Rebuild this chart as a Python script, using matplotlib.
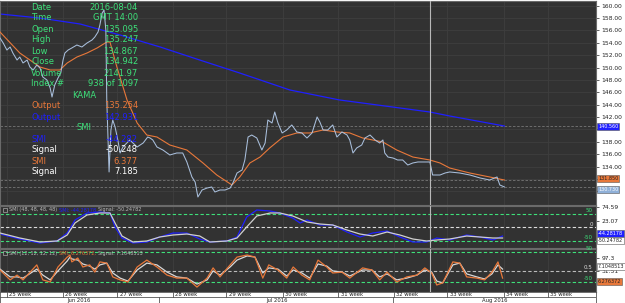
import numpy as np
import matplotlib
matplotlib.use("Agg")
import matplotlib.pyplot as plt

# ---- data (x = hourly bar index) ----
price_bar = [0, 7, 15, 22, 28, 37, 43, 50, 59, 65, 72, 80, 87, 93, 102, 109, 113, 119, 126, 132,
             137, 141, 148, 156, 167, 178, 189, 200, 206, 213, 217, 222, 226, 230, 232, 237, 241, 245,
             250, 256, 261, 267, 282, 298, 311, 321, 326, 332, 341, 354, 369, 384, 397, 406, 417, 424,
             430, 439, 450, 460, 467, 478, 489, 500, 506, 515, 526, 532, 539, 547, 558, 569, 576, 582,
             591, 597, 604, 613, 623, 634, 645, 656, 667, 678, 689, 695, 702, 712, 723, 732, 743, 754,
             760, 767, 775, 786, 793, 804, 815, 825, 832, 836, 843, 854, 864, 875, 886, 897, 908, 919,
             934, 940, 956, 967, 977, 999, 1021, 1043, 1064, 1080, 1086, 1096]
price = [154.76, 153.95, 152.82, 153.31, 152.34, 151.21, 151.69, 150.73, 151.21, 150.08, 149.60,
         150.40, 149.92, 148.47, 147.98, 146.69, 145.24, 147.18, 148.31, 149.11, 151.21, 152.34,
         152.82, 153.15, 153.63, 153.31, 153.95, 154.44, 154.92, 155.73, 156.85, 158.79, 159.27,
         156.05, 144.76, 133.15, 139.92, 141.53, 140.41, 138.31, 136.21, 137.18, 138.31, 137.18,
         137.82, 138.79, 138.63, 138.31, 137.18, 136.69, 135.89, 136.21, 136.21, 134.76, 132.34,
         131.53, 129.11, 130.24, 130.56, 130.73, 129.92, 130.24, 130.24, 130.56, 131.37, 132.98,
         133.47, 135.08, 138.79, 139.11, 138.63, 136.69, 137.82, 141.53, 141.05, 142.82, 141.05,
         139.44, 139.92, 140.73, 139.60, 139.44, 138.63, 139.44, 142.02, 141.21, 139.92, 139.92,
         140.73, 138.79, 139.60, 139.11, 138.31, 136.21, 137.02, 137.50, 138.63, 139.11, 138.31,
         137.82, 138.31, 136.21, 135.56, 135.40, 135.08, 135.08, 134.27, 134.60, 134.76, 134.76,
         134.76, 132.66, 132.66, 132.98, 133.15, 132.98, 132.66, 132.18, 131.85, 132.34, 131.05,
         130.73]

kama_fast_bar = [0, 43, 87, 109, 130, 146, 167, 189, 211, 232, 239, 254, 276, 298, 319, 341, 369,
                 406, 441, 471, 504, 521, 543, 565, 586, 615, 645, 673, 702, 732, 760, 788, 832, 862,
                 897, 934, 956, 977, 1021, 1064, 1096]
kama_fast = [155.73, 152.34, 150.08, 149.60, 149.60, 150.73, 151.69, 152.34, 153.15, 154.11,
             154.11, 150.08, 144.76, 141.05, 139.11, 138.79, 137.50, 136.69, 134.60, 132.66,
             131.05, 132.34, 134.60, 135.56, 137.02, 138.79, 139.44, 139.44, 139.92, 139.60,
             139.44, 138.63, 137.98, 136.69, 135.56, 135.08, 134.60, 133.79, 132.98, 132.34, 131.85]

kama_slow_bar = [0, 87, 174, 261, 348, 434, 521, 630, 738, 869, 934, 977, 1096]
kama_slow = [158.63, 157.98, 157.02, 155.24, 153.31, 151.21, 149.11, 146.37, 144.76, 143.47,
             142.82, 142.18, 140.56]

smi_long_bar = [0, 43, 87, 124, 146, 163, 189, 217, 239, 250, 265, 289, 319, 347, 376, 406, 434,
                456, 493, 515, 536, 558, 587, 608, 636, 652, 667, 695, 723, 754, 782, 810, 841, 869,
                897, 927, 949, 977, 1014, 1043, 1071, 1092]
smi_long = [-24.1, -42.6, -57.4, -50.0, -20.4, 27.8, 53.7, 57.4, 53.7, 1.9, -38.9, -57.4, -53.7,
            -35.2, -20.4, -20.4, -42.6, -53.7, -50.0, -35.2, 38.9, 64.8, 61.1, 53.7, 35.2, 16.7,
            27.8, 9.3, 9.3, -16.7, -35.2, -20.4, -13.0, -35.2, -53.7, -53.7, -38.9, -46.3, -27.8,
            -35.2, -46.3, -31.5]
smi_long_sig = [-20.4, -38.9, -53.7, -50.0, -27.8, 16.7, 46.3, 53.7, 53.7, 16.7, -31.5, -53.7,
                -50.0, -35.2, -27.8, -24.1, -31.5, -53.7, -50.0, -38.9, 1.9, 42.6, 53.7, 53.7,
                42.6, 31.5, 20.4, 13.0, 9.3, -9.3, -24.1, -31.5, -16.7, -27.8, -42.6, -50.0,
                -46.3, -42.6, -31.5, -35.2, -38.9, -38.9]

smi_short_bar = [0, 22, 37, 50, 80, 93, 109, 126, 146, 152, 156, 169, 180, 195, 206, 217, 232,
                 245, 261, 278, 298, 319, 341, 363, 384, 406, 428, 450, 463, 478, 500, 515, 537,
                 554, 571, 584, 604, 623, 637, 656, 673, 691, 710, 723, 743, 760, 788, 808, 825,
                 841, 862, 884, 906, 923, 938, 949, 962, 984, 999, 1014, 1036, 1053, 1069, 1082, 1092]
smi_short = [-10, -43, -27, -43, 7, -43, -50, 0, 33, 40, 17, 30, 0, 7, -17, 17, 13, -33, -43, -50,
             0, 23, 0, -27, -37, -37, -67, -37, -3, -33, 7, 33, 40, 33, -37, 7, -10, -37, 0, -27,
             -43, 23, 0, -20, -17, -37, -3, -10, -43, -17, -50, -33, -27, -3, -20, -60, -53, 17, 13,
             -33, -37, -43, -17, 17, -37]
smi_short_sig = [-7, -33, -33, -37, -7, -27, -43, -13, 20, 33, 27, 23, 10, 3, -7, 7, 13, -20,
                 -37, -47, -10, 13, 7, -17, -33, -37, -57, -43, -13, -27, 0, 23, 37, 33, -20, -3,
                 -7, -30, -10, -20, -37, 10, 3, -13, -17, -30, -10, -10, -33, -23, -43, -37, -27,
                 -10, -17, -47, -53, 7, 13, -23, -33, -40, -23, 7, -7]

week_bar = [15, 136, 255, 376, 492, 614, 735, 856, 972, 1095, 1190]
week_labels = ["25 week", "26 week", "27 week", "28 week", "29 week", "30 week",
               "31 week", "32 week", "33 week", "34 week", "35 week"]
month_bar = [345, 854]
month_label_bar = [172, 602, 1075]
month_labels = ["Jun 2016", "Jul 2016", "Aug 2016"]

cursor_bar = 934
info_rows = [("Date", "2016-08-04", "g"), ("Time", "GMT 14:00", "g"), ("Open", "135.095", "g"),
             ("High", "135.247", "g"), ("Low", "134.867", "g"), ("Close", "134.942", "g"),
             ("Volume", "2141.97", "g"), ("Index #", "938 of 1097", "g"), ("KAMA", None, "g"),
             ("Output", "135.254", "o"), ("Output", "142.931", "b"), ("SMI", None, "g"),
             ("SMI", "-44.282", "b"), ("Signal", "-50.248", "w"), ("SMI", "6.377", "o"),
             ("Signal", "7.185", "w")]

W, H = 625, 303
BG = "#323232"
GRID = "#3e3e3e"
GREEN = "#3ee07a"
ORANGE = "#e8783a"
BLUE = "#1f1fff"
PRICE = "#a9bfdc"
colors = {"g": GREEN, "o": ORANGE, "b": BLUE, "w": "white"}


def rect(x0, y0, x1, y1):
    return [x0 / W, 1 - y1 / H, (x1 - x0) / W, (y1 - y0) / H]


def fxy(x, y):
    return x / W, 1 - y / H


fig = plt.figure(figsize=(W / 100, H / 100), dpi=100, facecolor="white")
ax = fig.add_axes(rect(0, 1, 596, 205))
ax1 = fig.add_axes(rect(0, 206, 596, 248), sharex=ax)
ax2 = fig.add_axes(rect(0, 249, 596, 291.5), sharex=ax)
axx = fig.add_axes(rect(0, 291.5, 596, 303), sharex=ax)

for a in (ax, ax1, ax2):
    a.set_facecolor(BG)
    for s in a.spines.values():
        s.set_color("#6a6a6a")
        s.set_linewidth(0.8)
    a.yaxis.tick_right()
    a.tick_params(axis="y", labelsize=4.3, length=2, width=0.5, pad=2, colors="#222222")
    a.tick_params(axis="x", bottom=False, labelbottom=False)
    for wb in week_bar:
        a.axvline(wb, color=GRID, lw=0.6, zorder=0)
    a.axvline(cursor_bar, color="#b8b8b8", lw=0.8, zorder=5)

ax.set_xlim(0, 1295)

# main price panel (ticks under the value tags are hidden, as in the original)
ticks = np.arange(130, 161, 2)
ax.set_ylim(127.82, 160.73)
ax.set_yticks(ticks)
ax.set_yticklabels(["" if v in (130, 132, 140) else f"{v:.2f}" for v in ticks])
ax.grid(axis="y", color=GRID, lw=0.6, zorder=0)
ax.plot(kama_slow_bar, kama_slow, color=BLUE, lw=0.9, zorder=2)
ax.plot(kama_fast_bar, kama_fast, color=ORANGE, lw=0.8, zorder=3)
ax.plot(price_bar, price, color=PRICE, lw=0.75, zorder=4)
for lv in (kama_slow[-1], price[-1], kama_fast[-1]):
    ax.axhline(lv, color="#777777", lw=0.6, ls=(0, (3, 2)), zorder=1)


def tag(a, y, text, fc, tc, dy=0):
    a.annotate(text, xy=(1.0, y), xycoords=("axes fraction", "data"),
               xytext=(1.5, dy), textcoords="offset points", fontsize=3.5, color=tc,
               va="center", ha="left", annotation_clip=False, zorder=10,
               bbox=dict(boxstyle="square,pad=0.2", fc=fc, ec="#555555", lw=0.4))


tag(ax, kama_slow[-1], f"{kama_slow[-1]:.3f}", BLUE, "white")
tag(ax, kama_fast[-1], f"{kama_fast[-1]:.3f}", ORANGE, "#222222", dy=1)
tag(ax, price[-1], f"{price[-1]:.3f}", "#8fb0d8", "white", dy=-1.5)

# info box
for i, (lab, val, c) in enumerate(info_rows):
    y = 7 + i * 11
    col = colors[c]
    if val is None:
        fig.text(*fxy(84, y), lab, color=col, fontsize=6, ha="center", va="center")
    else:
        fig.text(*fxy(31, y), lab, color=col, fontsize=6, ha="left", va="center")
        fig.text(*fxy(138, y), val, color=col, fontsize=6, ha="right", va="center")

# SMI long panel
ax1.set_ylim(-75.9, 79.6)
ax1.set_yticks([23.07, 74.59])
ax1.set_yticklabels(["23.07", "74.59"])
for lv, c in ((50, GREEN), (0, "#dddddd"), (-50, GREEN)):
    ax1.axhline(lv, color=c, lw=0.8, ls=(0, (3, 2)), zorder=1)
ax1.plot(smi_long_bar, smi_long_sig, color="#cfcfcf", lw=0.9, zorder=3)
ax1.plot(smi_long_bar, smi_long, color=BLUE, lw=0.9, zorder=2)
for lv, txt, c in ((50, "50", GREEN), (0, "0", "#dddddd"), (-50, "-50", GREEN)):
    ax1.text(1288, lv + 3, txt, color=c, fontsize=4, ha="right", va="bottom")
tag(ax1, smi_long[-1], "-44.28178", BLUE, "white", dy=1.5)
tag(ax1, smi_long_sig[-1], "-50.24782", "white", "#222222", dy=-1.5)

# SMI short panel
ax2.set_ylim(-81.7, 60)
ax2.set_yticks([-13, 30])
ax2.set_yticklabels(["31.51", "97.3"])
for lv, c in ((50, GREEN), (-13, "#bbbbbb"), (-50, GREEN)):
    ax2.axhline(lv, color=c, lw=0.8, ls=(0, (3, 2)), zorder=1)
ax2.plot(smi_short_bar, smi_short_sig, color="#d8d8d8", lw=0.9, zorder=3)
ax2.plot(smi_short_bar, smi_short, color=ORANGE, lw=0.9, zorder=4)
for lv, txt, c in ((50, "50", GREEN), (-13, "0.5", "#dddddd"), (-50, "-50", GREEN)):
    ax2.text(1288, lv + 3, txt, color=c, fontsize=4, ha="right", va="bottom")
tag(ax2, smi_short_sig[-1], "7.1048513", "white", "#222222", dy=2)
tag(ax2, smi_short[-1], "6.276372", ORANGE, "#222222", dy=-2.5)


# panel legends: pieces laid one after another
def legend_line(y, pieces):
    fig.add_artist(plt.Rectangle(fxy(3, y + 2), 4 / W, 4 / H, fc="none", ec="#aaaaaa", lw=0.5))
    renderer = fig.canvas.get_renderer()
    x = 9
    for txt, col in pieces:
        t = fig.text(*fxy(x, y), txt, color=col, fontsize=3.5, va="center")
        x += t.get_window_extent(renderer).width + 2


legend_line(210, [("SMI (48, 48, 48, 48)", "#bbbbbb"), ("SMI: -44.28178", BLUE),
                  ("Signal: -50.24782", "#bbbbbb")])
legend_line(253, [("SMI (12, 12, 12, 12)", "#bbbbbb"), ("SMI: 6.276372,", ORANGE),
                  ("Signal: 7.1048513", "#bbbbbb")])

# date axis band
axx.set_facecolor("white")
axx.set_ylim(0, 2)
axx.set_xticks([])
axx.set_yticks([])
for s in axx.spines.values():
    s.set_color("#555555")
    s.set_linewidth(0.6)
axx.axhline(1, color="#555555", lw=0.6)
for wb, lab in zip(week_bar, week_labels):
    axx.plot([wb, wb], [1, 2], color="#555555", lw=0.6)
    axx.text(wb + 5, 1.5, lab, fontsize=3.8, va="center", ha="left", color="#222222")
for mb in month_bar:
    axx.plot([mb, mb], [0, 1], color="#555555", lw=0.6)
for mb, lab in zip(month_label_bar, month_labels):
    axx.text(mb, 0.45, lab, fontsize=3.8, va="center", ha="center", color="#222222")

fig.savefig("out.png", dpi=100, facecolor="white")
